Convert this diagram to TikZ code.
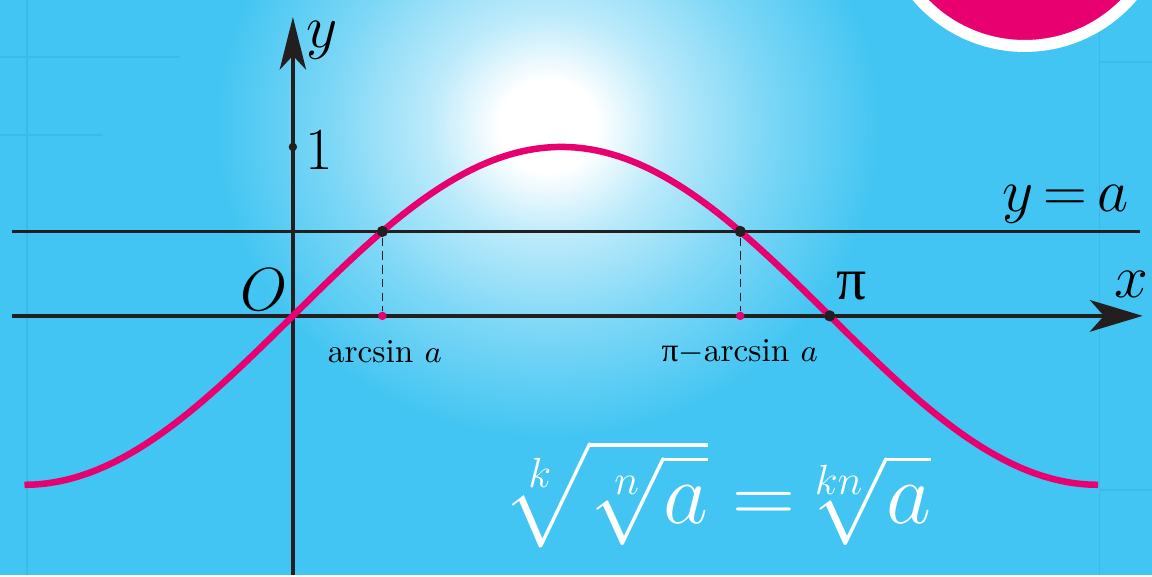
\documentclass[tikz,border=0pt]{standalone}
\usepackage{amsmath}
\usepackage{fontspec}
\usepackage{tikz}
\usetikzlibrary{arrows.meta,positioning,calc}
\newfontfamily\greekfont{Liberation Serif}
\definecolor{skyblue}{RGB}{66,197,242}
\definecolor{gridblue}{RGB}{57,187,234}
\definecolor{rosepink}{RGB}{232,0,112}
\definecolor{inkblack}{RGB}{35,31,32}
\pgfdeclareradialshading{skyglow}{\pgfpoint{0bp}{0bp}}{%
  color(0bp)=(white); color(2.5bp)=(white); color(6bp)=(skyblue!35!white);
  color(11bp)=(skyblue!68!white); color(17bp)=(skyblue); color(50bp)=(skyblue)}
\newcommand{\pisym}{{\greekfont π}}

\begin{document}
\begin{tikzpicture}[x=1.70934cm,y=1.69cm,font=\fontsize{17}{20}\selectfont,
  inner sep=1pt,
  bigdot/.style={circle,fill=inkblack,inner sep=0pt,minimum size=3.2pt},
  pinkdot/.style={circle,fill=rosepink,inner sep=0pt,minimum size=2.4pt},
  smalllbl/.style={font=\fontsize{9.5}{11}\selectfont,inner sep=0pt}]
  % background, glow and the corner disc
  \fill[skyblue] (-2.93cm,-2.59cm) rectangle (8.59cm,3.16cm);
  \begin{scope}
    \clip (-2.93cm,-2.59cm) rectangle (8.59cm,3.16cm);
    \shade[shading=skyglow] (2.55cm,1.9cm) ellipse (4.9cm and 4.6cm);
    \draw[gridblue,line width=0.4pt] (-2.66cm,-2.59cm) -- (-2.66cm,3.16cm);
    \draw[gridblue,line width=0.4pt] (8.07cm,-2.59cm) -- (8.07cm,3.16cm);
    \draw[gridblue,line width=0.4pt] (-2.93cm,2.59cm) -- (-1.13cm,2.59cm);
    \draw[gridblue,line width=0.4pt] (-2.93cm,1.81cm) -- (-1.90cm,1.81cm);
    \draw[gridblue,line width=0.4pt] (8.07cm,-1.74cm) -- (8.59cm,-1.74cm);
    \draw[gridblue,line width=0.4pt] (8.07cm,2.54cm) -- (8.59cm,2.54cm);
    \fill[rosepink,draw=white,line width=3.4pt] (7.32cm,4.11cm) circle (1.41cm);
  \end{scope}
  % axes
  \coordinate (O) at (0,0);
  \coordinate (xs) at (-2.81cm,0);
  \coordinate (xe) at (8.50cm,0);
  \coordinate (ys) at (0,-2.59cm);
  \coordinate (ye) at (0,2.99cm);
  \coordinate (as) at (-2.81cm,0.5);
  \coordinate (ae) at (8.47cm,0.5);
  \draw[inkblack,line width=0.7pt] (as) -- (ae);
  \draw[inkblack,line width=1.15pt,-{Stealth[length=15pt,width=9pt,inset=4pt]}]
    (xs) -- (xe);
  \draw[inkblack,line width=1.15pt,-{Stealth[length=15pt,width=7.5pt,inset=4pt]}]
    (ys) -- (ye);
  % y = sin x
  \draw[rosepink,line width=1.85pt,domain=-pi/2:3*pi/2,samples=120,smooth]
    plot (\x,{sin(\x r)});
  \node[bigdot] (p1) at ({pi/6},0.5) {};
  \node[bigdot] (p2) at ({5*pi/6},0.5) {};
  \node[pinkdot] (f1) at ({pi/6},0) {};
  \node[pinkdot] (f2) at ({5*pi/6},0) {};
  \node[bigdot] (pi) at ({pi},0) {};
  \node[bigdot,minimum size=2.4pt] (one) at (0,1) {};
  \draw[inkblack,line width=0.35pt,dash pattern=on 2.4pt off 1.5pt] (p1) -- (f1);
  \draw[inkblack,line width=0.35pt,dash pattern=on 2.4pt off 1.5pt] (p2) -- (f2);
  % labels
  \node (ylbl) at (0.29cm,2.76cm) {$y$};
  \node (onelbl) at (0.26cm,1.66cm) {1};
  \node (olbl) at (-0.29cm,0.26cm) {$O$};
  \node (alb) at (7.73cm,1.12cm) {$y\,{=}\,a$};
  \node (xlbl) at (8.39cm,0.31cm) {$x$};
  \node (pilbl) at (5.59cm,0.30cm) {\pisym};
  \node[smalllbl] (as1) at (0.92cm,-0.36cm) {arcsin~$a$};
  \node[smalllbl] (as2) at (4.47cm,-0.36cm) {\pisym$-$arcsin~$a$};
  \node[text=white,font=\fontsize{23}{28}\selectfont] (rule) at (4.25cm,-1.78cm)
    {$\sqrt[k]{\sqrt[n]{a}}\;{=}\;\mkern-6mu\sqrt[kn]{a}$};
\end{tikzpicture}
\end{document}
